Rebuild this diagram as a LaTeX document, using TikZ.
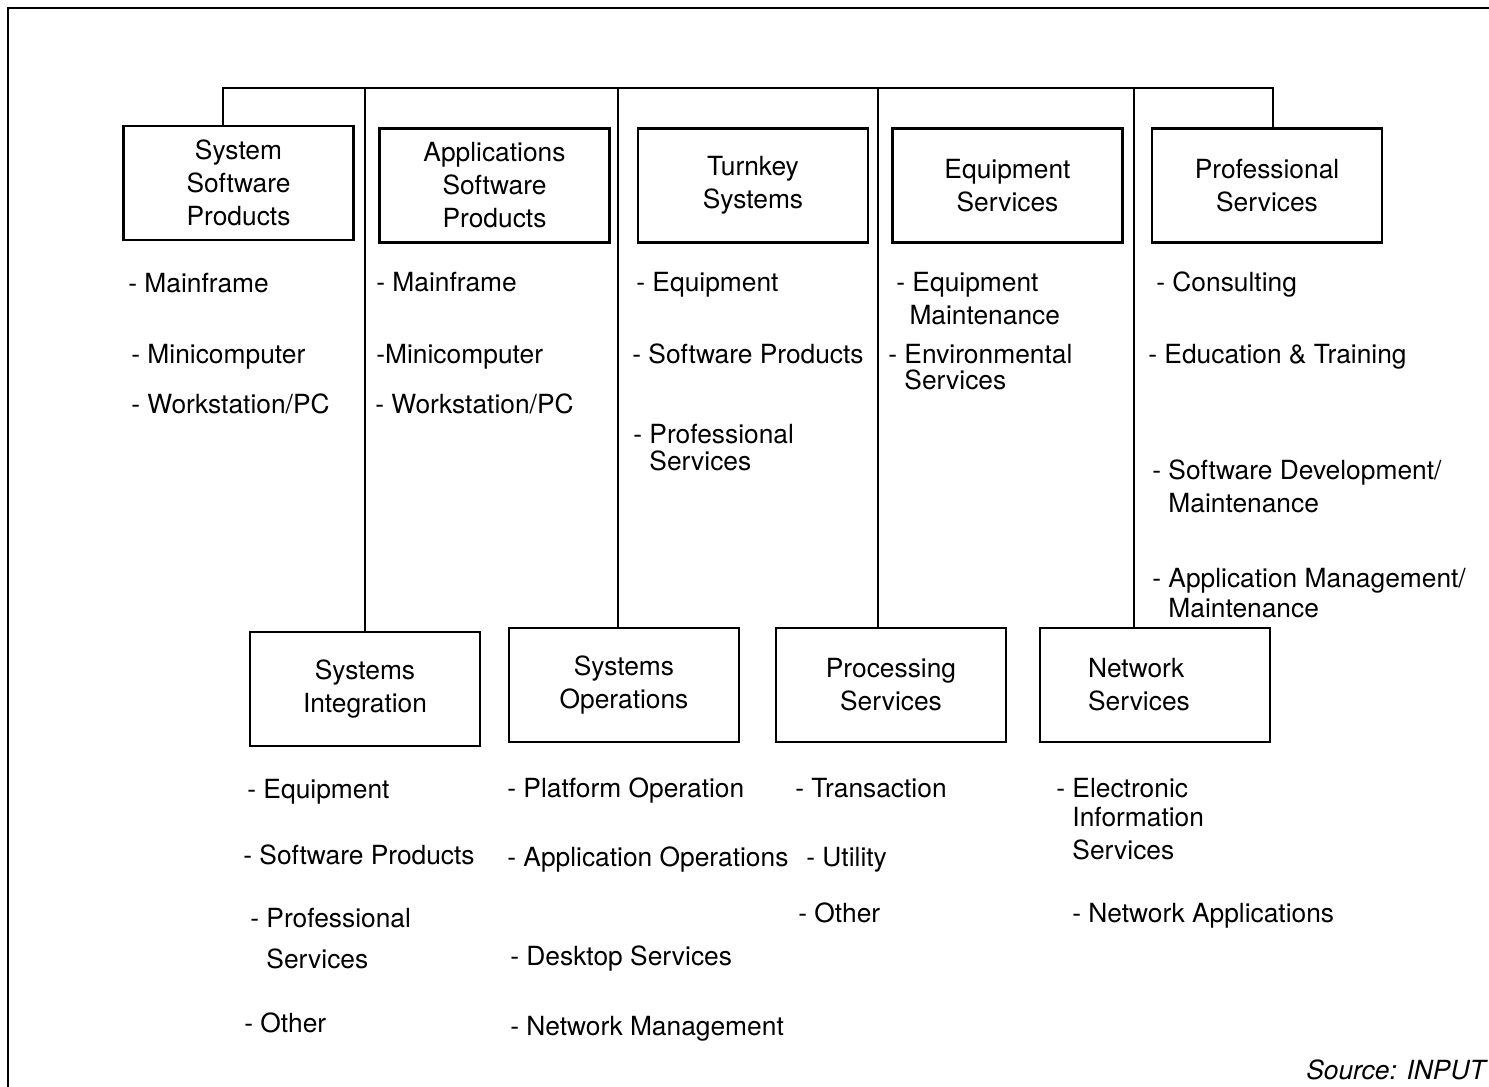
\documentclass[tikz,border=0pt]{standalone}
\usepackage{fontspec}
\setmainfont{TeX Gyre Heros}

\begin{document}
\begin{tikzpicture}[x=0.02cm,y=-0.02cm,
  every node/.style={font=\fontsize{15}{18.8}\selectfont},
  catbox/.style={draw, line width=1.4pt, minimum width=4.6cm, minimum height=2.28cm, align=center, inner sep=0pt},
  item/.style={anchor=base west, inner sep=0pt, align=left},
  link/.style={line width=1.1pt}]
  \useasboundingbox (0,0) rectangle (1489,1087);
  \draw[line width=1.6pt] (8,1087) |- (1489,8);
  % top row
  \node[catbox] (ssp) at (238.5,183) {System\\Software\\Products};
  \node[catbox] (asp) at (494.5,185.5) {Applications\\Software\\Products};
  \node[catbox] (tks) at (753,185.5) {Turnkey\\Systems};
  \node[catbox] (eqs) at (1007.5,185.5) {Equipment\\Services};
  \node[catbox] (prs) at (1267,185.5) {Professional\\Services};
  % bottom row
  \node[catbox] (si) at (365,689) {Systems\\Integration};
  \node[catbox] (so) at (624,685) {Systems\\Operations};
  \node[catbox] (pcs) at (891,685) {Processing\\Services};
  \node[catbox, align=left, text width=2.68cm, inner xsep=0.96cm] (ns) at (1155,685) {Network\\Services};
  % bus
  \coordinate (busL) at (223,88);
  \coordinate (busR) at (1273,88);
  \coordinate (tapsi) at (365,88);
  \coordinate (tapso) at (618,88);
  \coordinate (tappcs) at (878,88);
  \coordinate (tapns) at (1134,88);
  \draw[link] (ssp.north -| busL) -- (busL) -- (busR) -- (prs.north -| busR);
  \foreach \n in {si,so,pcs,ns}
    \draw[link] (tap\n) -- (\n.north -| tap\n);
  % items, top row (multi-line items sit on their last line)
  \node[item] (ssp1) at (128,293) {- Mainframe};
  \node[item] (ssp2) at (131,364) {- Minicomputer};
  \node[item] (ssp3) at (131,414) {- Workstation/PC};
  \node[item] (asp1) at (376,292) {- Mainframe};
  \node[item] (asp2) at (376,364) {-Minicomputer};
  \node[item] (asp3) at (375,414) {- Workstation/PC};
  \node[item] (tks1) at (636,292) {- Equipment};
  \node[item] (tks2) at (632,364) {- Software Products};
  \node[item] (tks3) at (633,471) {- Professional\\[-3.4pt]\phantom{- }Services};
  \node[item] (eqs1) at (896,325) {- Equipment\\\phantom{-}\,Maintenance};
  \node[item] (eqs2) at (888,390) {- Environmental\\[-4pt]\phantom{- }Services};
  \node[item] (prs1) at (1156,292) {- Consulting};
  \node[item] (prs2) at (1148,364) {- Education \& Training};
  \node[item] (prs3) at (1152,513) {- Software Development/\\\phantom{- }Maintenance};
  \node[item] (prs4) at (1152,618) {- Application Management/\\[-1.7pt]\phantom{- }Maintenance};
  % items, bottom row
  \node[item] (si1) at (247,799) {- Equipment};
  \node[item] (si2) at (243,865) {- Software Products};
  \node[item] (si3) at (250,969) {- Professional\\[5pt]\phantom{- }Services};
  \node[item] (si4) at (244,1032) {- Other};
  \node[item] (so1) at (507,798) {- Platform Operation};
  \node[item] (so2) at (507,867) {- Application Operations};
  \node[item] (so3) at (510,966) {- Desktop Services};
  \node[item] (so4) at (510,1035) {- Network Management};
  \node[item] (pcs1) at (795,798) {- Transaction};
  \node[item] (pcs2) at (806,867) {- Utility};
  \node[item] (pcs3) at (798,923) {- Other};
  \node[item] (ns1) at (1056,860) {- Electronic\\[-2.3pt]\phantom{- }Information\\\phantom{- }Services};
  \node[item] (ns2) at (1072,923) {- Network Applications};
  \node[anchor=base east, inner sep=0pt, font=\fontsize{15}{18.8}\selectfont\itshape] (src) at (1486,1079) {Source: INPUT};
\end{tikzpicture}
\end{document}
